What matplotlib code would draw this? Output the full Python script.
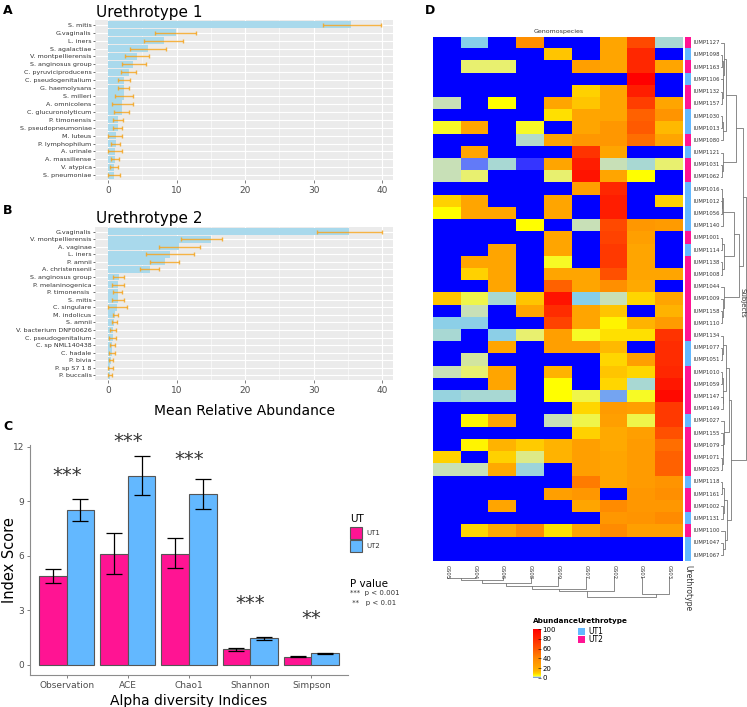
import matplotlib

matplotlib.use("Agg")

import matplotlib.pyplot as plt
import numpy as np
from matplotlib.colors import LinearSegmentedColormap, ListedColormap

W, H = 747, 707

# --- Panel A / B data: mean relative abundance with lower/upper error ---
ut1_taxa = ['S. mitis', 'G.vaginalis', 'L. iners', 'S. agalactiae', 'V. montpellierensis',
            'S. anginosus group', 'C. pyruviciproducens', 'C. pseudogenitalium', 'G. haemolysans',
            'S. milleri', 'A. omnicolens', 'C. glucuronolyticum', 'P. timonensis',
            'S. pseudopneumoniae', 'M. luteus', 'P. lymphophilum', 'A. urinale', 'A. massiliense',
            'V. atypica', 'S. pneumoniae']
ut1_mean = [35.5, 9.9, 8.2, 5.8, 4.3, 3.7, 3.0, 2.3, 2.3, 2.3, 2.1, 2.0, 1.5, 1.5, 1.1, 1.1, 1.0, 1.0, 0.9, 0.9]
ut1_lo = [31.4, 6.9, 5.2, 3.2, 2.5, 2.0, 1.9, 1.5, 1.5, 1.0, 0.6, 0.9, 0.8, 0.8, 0.0, 0.4, 0.0, 0.4, 0.3, 0.0]
ut1_hi = [39.8, 12.9, 11.0, 8.4, 6.0, 5.5, 4.1, 3.2, 3.1, 3.6, 3.6, 3.1, 2.2, 2.1, 2.1, 1.8, 2.1, 1.6, 1.5, 1.8]

ut2_taxa = ['G.vaginalis', 'V. montpellierensis', 'A. vaginae', 'L. iners', 'P. amnii',
            'A. christensenii', 'S. anginosus group', 'P. melaninogenica', 'P. timonensis ',
            'S. mitis', 'C. singulare', 'M. indolicus', 'S. amnii', 'V. bacterium DNF00626',
            'C. pseudogenitalium', 'C. sp NML140438', 'C. hadale', 'P. bivia', 'P. sp S7 1 8',
            'P. buccalis']
ut2_mean = [35.2, 15.0, 10.4, 9.0, 8.3, 6.1, 1.6, 1.5, 1.5, 1.4, 1.3, 1.0, 0.9, 0.7, 0.7, 0.6, 0.6, 0.4, 0.35, 0.3]
ut2_lo = [30.5, 10.6, 7.4, 5.6, 6.2, 4.7, 0.8, 0.6, 0.8, 0.6, 0.0, 0.8, 0.6, 0.3, 0.2, 0.3, 0.1, 0.2, 0.0, 0.0]
ut2_hi = [40.0, 16.7, 13.4, 12.5, 10.3, 7.5, 2.3, 2.3, 2.1, 2.3, 2.7, 1.5, 1.3, 1.2, 1.1, 1.0, 1.0, 0.7, 0.8, 0.6]

# --- Panel C data ---
indices = ['Observation', 'ACE', 'Chao1', 'Shannon', 'Simpson']
c_ut1 = [4.9, 6.12, 6.12, 0.86, 0.46]
c_ut1_lo = [4.5, 5.02, 5.33, 0.79, 0.44]
c_ut1_hi = [5.28, 7.24, 6.97, 0.94, 0.50]
c_ut2 = [8.53, 10.4, 9.41, 1.47, 0.66]
c_ut2_lo = [7.9, 9.34, 8.58, 1.38, 0.63]
c_ut2_hi = [9.12, 11.49, 10.24, 1.56, 0.68]
sig_marks = ['***', '***', '***', '***', '**']
sig_y = [10.4, 12.3, 11.3, 3.36, 2.57]

# --- Panel D data ---
species = ['GS05', 'GS04', 'GS06', 'GS08', 'GS09', 'GS07', 'GS02', 'GS01', 'GS03']
subjects = ['IUMP1127', 'IUMP1098', 'IUMP1163', 'IUMP1106', 'IUMP1132', 'IUMP1157', 'IUMP1030',
            'IUMP1013', 'IUMP1080', 'IUMP1121', 'IUMP1031', 'IUMP1062', 'IUMP1016', 'IUMP1012',
            'IUMP1056', 'IUMP1140', 'IUMP1001', 'IUMP1114', 'IUMP1138', 'IUMP1008', 'IUMP1044',
            'IUMP1009', 'IUMP1158', 'IUMP1110', 'IUMP1134', 'IUMP1077', 'IUMP1051', 'IUMP1010',
            'IUMP1059', 'IUMP1147', 'IUMP1149', 'IUMP1027', 'IUMP1155', 'IUMP1079', 'IUMP1071',
            'IUMP1025', 'IUMP1118', 'IUMP1161', 'IUMP1002', 'IUMP1131', 'IUMP1100', 'IUMP1047',
            'IUMP1067']
urethrotype = ['UT2', 'UT1', 'UT2', 'UT1', 'UT2', 'UT2', 'UT1', 'UT1', 'UT2', 'UT1', 'UT2', 'UT2',
               'UT1', 'UT1', 'UT1', 'UT1', 'UT2', 'UT1', 'UT2', 'UT2', 'UT2', 'UT2', 'UT2', 'UT2',
               'UT2', 'UT1', 'UT1', 'UT2', 'UT2', 'UT2', 'UT2', 'UT1', 'UT2', 'UT2', 'UT2', 'UT2',
               'UT1', 'UT2', 'UT2', 'UT1', 'UT2', 'UT1', 'UT1']
abundance = [
    [0, 0.6, 0, 35, 0, 0, 22, 65, 1.2],
    [0, 0, 0, 0, 12, 0, 22, 80, 0],
    [0, 3.5, 3.5, 0, 0, 25, 22, 80, 22],
    [0, 0, 0, 0, 0, 0, 0, 100, 0],
    [0, 0, 0, 0, 0, 10, 22, 85, 0],
    [2, 0, 5, 0, 22, 12, 22, 70, 22],
    [0, 0, 0, 0, 8, 22, 22, 55, 32],
    [4.5, 22, 0, 4.5, 0, 22, 30, 58, 14],
    [0, 0, 0, 1.5, 22, 30, 30, 50, 22],
    [0, 22, 0, 0, 0, 75, 22, 0, 0],
    [2, 0.4, 1.2, 0.2, 22, 85, 2, 1.2, 3.5],
    [2, 3.5, 0, 0, 3.5, 90, 22, 5, 0],
    [0, 0, 0, 0, 0, 25, 80, 0, 0],
    [10, 22, 0, 0, 22, 0, 85, 0, 10],
    [5, 22, 22, 0, 22, 0, 85, 0, 0],
    [0, 0, 0, 5, 0, 2, 65, 30, 28],
    [0, 0, 0, 0, 22, 0, 68, 25, 0],
    [0, 0, 22, 0, 22, 0, 72, 22, 0],
    [0, 22, 22, 0, 4.5, 0, 72, 22, 0],
    [0, 10, 22, 0, 22, 22, 62, 22, 22],
    [0, 0, 22, 0, 55, 22, 35, 20, 0],
    [12, 4, 1.2, 12, 90, 0.6, 2, 9, 22],
    [0, 2, 0, 22, 78, 22, 12, 0, 15],
    [0.7, 0.7, 0, 0, 68, 22, 6, 15, 28],
    [1.2, 0, 0.7, 3.5, 25, 4.5, 8, 8, 75],
    [0, 0, 22, 0, 25, 25, 14, 0, 78],
    [0, 2.5, 0, 0, 0, 0, 9, 25, 78],
    [2, 3.5, 22, 0, 15, 0, 12, 9, 80],
    [0, 0, 22, 0, 5, 0, 9, 1.2, 88],
    [0.9, 1.2, 1.2, 0, 5, 4, 0.5, 4.5, 95],
    [0, 0, 0, 0, 0, 9, 28, 25, 72],
    [0, 6, 22, 0, 2, 4, 25, 4, 72],
    [0, 0, 0, 0, 0, 10, 20, 25, 62],
    [0, 6, 15, 11, 15, 25, 20, 28, 50],
    [10, 0, 10, 3, 15, 25, 22, 28, 55],
    [2, 2, 20, 1.0, 0, 25, 22, 28, 55],
    [0, 0, 0, 0, 0, 45, 22, 28, 32],
    [0, 0, 0, 0, 25, 30, 0, 30, 35],
    [0, 0, 22, 0, 0, 22, 38, 30, 30],
    [0, 0, 0, 0, 0, 0, 30, 32, 38],
    [0, 9, 20, 38, 8, 22, 38, 25, 25],
    [0, 0, 0, 0, 0, 0, 0, 0, 0],
    [0, 0, 0, 0, 0, 0, 0, 0, 0],
]

# dendrograms as nested (height, left, right); leaves are row/column indices
row_tree = (25,
            (22,
             (15,
              (5, (3, 0, (2, (1, 1, 2), (1.5, 3, (1, 4, 5)))), (2, (1, 6, 7), 8)),
              (2, 9, (1, 10, 11))),
             (18,
              (13, (2, (1, 12, (0.5, 13, 14)), 15), (2.5, (1, 16, 17), (1, 18, 19))),
              (3, 20, (2, 21, (1, 22, 23))))),
            (10,
             (8,
              (5, (1.5, 24, (1, 25, 26)), (2, (1, 27, 28), (1.5, 29, 30))),
              (2.5, 31, (2, 32, (1.5, 33, (1, 34, 35))))),
             (6, (3, (1, 36, 37), (2, 38, 39)), (4, 40, (2, 41, 42)))))
col_tree = (20, (14, (12, (9, (6, (3, (1, 0, 1), 2), 3), 4), 5), 6), (17, 7, 8))

# --- colours ---
BAR_BLUE = '#A9D9EC'
ERR_ORANGE = '#F5A623'
UT1_COL = '#63B8FF'
UT2_COL = '#FF1493'
heat_vals = [0, 0.3, 0.6, 1.2, 2, 3.5, 5, 9, 15, 25, 40, 60, 80, 100]
heat_cols = ['#0000FF', '#5050FF', '#87CEEB', '#A8D8D4', '#C8E0B8', '#E8F070', '#FFFF00',
             '#FFD700', '#FFB400', '#FFA000', '#FF8800', '#FF5500', '#FF2800', '#FF0000']
heat_cmap = LinearSegmentedColormap.from_list(
    'abund', list(zip(np.array(heat_vals) / 100, heat_cols)), N=20000)

fig = plt.figure(figsize=(W / 100, H / 100), dpi=100)


def px_axes(l, t, r, b):
    return fig.add_axes([l / W, 1 - b / H, (r - l) / W, (b - t) / H])


def px_text(x, y, s, **kw):
    fig.text(x / W, 1 - y / H, s, **kw)


# --- Panels A and B ---
def abundance_panel(ax, taxa, mean, lo, hi):
    n = len(taxa)
    y = np.arange(n)[::-1]
    mean = np.array(mean)
    ax.set_facecolor('#EBEBEB')
    ax.barh(y, mean, height=0.9, color=BAR_BLUE, zorder=2)
    ax.errorbar(mean, y, xerr=[mean - np.array(lo), np.array(hi) - mean], fmt='none',
                ecolor=ERR_ORANGE, elinewidth=1, capsize=1.5, capthick=1, alpha=0.85, zorder=3)
    ax.set_xlim(-1.9, 41.6)
    ax.set_ylim(-0.6, n - 0.4)
    ax.set_yticks(y)
    ax.set_yticklabels(taxa, fontsize=4.6, color='#333333')
    ax.set_xticks([0, 10, 20, 30, 40])
    ax.set_xticks([5, 15, 25, 35], minor=True)
    ax.tick_params(axis='x', labelsize=6.5, colors='#4D4D4D', length=2, width=0.5, pad=2)
    ax.tick_params(axis='x', which='minor', length=0)
    ax.tick_params(axis='y', length=1.5, width=0.5, pad=1, colors='#333333')
    ax.grid(True, which='major', color='white', lw=0.8, zorder=0)
    ax.grid(True, which='minor', axis='x', color='white', lw=0.4, zorder=0)
    ax.set_axisbelow(True)
    for s in ax.spines.values():
        s.set_visible(False)


axA = px_axes(95, 20, 393, 180)
abundance_panel(axA, ut1_taxa, ut1_mean, ut1_lo, ut1_hi)
px_text(96, 13, 'Urethrotype 1', fontsize=11, va='center')
px_text(3, 11, 'A', fontsize=9, fontweight='bold', va='center')

axB = px_axes(95, 227, 393, 380)
abundance_panel(axB, ut2_taxa, ut2_mean, ut2_lo, ut2_hi)
px_text(96, 219, 'Urethrotype 2', fontsize=11, va='center')
px_text(3, 210, 'B', fontsize=9, fontweight='bold', va='center')
axB.set_xlabel('Mean Relative Abundance', fontsize=10, labelpad=7)

# --- Panel C ---
axC = px_axes(30, 445, 348, 675)
xc = np.arange(1, len(indices) + 1)
bw = 0.45
u1 = np.array(c_ut1)
u2 = np.array(c_ut2)
axC.bar(xc - bw / 2, u1, width=bw, color=UT2_COL, edgecolor='#555555', lw=0.8, label='UT1', zorder=2)
axC.bar(xc + bw / 2, u2, width=bw, color=UT1_COL, edgecolor='#555555', lw=0.8, label='UT2', zorder=2)
axC.errorbar(xc - bw / 2, u1, yerr=[u1 - np.array(c_ut1_lo), np.array(c_ut1_hi) - u1], fmt='none',
             ecolor='black', elinewidth=0.9, capsize=5.5, capthick=0.9, zorder=3)
axC.errorbar(xc + bw / 2, u2, yerr=[u2 - np.array(c_ut2_lo), np.array(c_ut2_hi) - u2], fmt='none',
             ecolor='black', elinewidth=0.9, capsize=5.5, capthick=0.9, zorder=3)
for xi, mark, yi in zip(xc, sig_marks, sig_y):
    axC.text(xi, yi, mark, fontsize=14, ha='center', va='center', color='#333333')
axC.set_xlim(0.4, 5.6)
axC.set_ylim(-0.55, 12.1)
axC.set_xticks(xc)
axC.set_xticklabels(indices, fontsize=6.5, color='#333333')
axC.set_yticks([0, 3, 6, 9, 12])
axC.tick_params(labelsize=6.5, colors='#4D4D4D', length=2, width=0.5, pad=2)
for s in ['top', 'right']:
    axC.spines[s].set_visible(False)
for s in ['left', 'bottom']:
    axC.spines[s].set_color('#8C8C8C')
    axC.spines[s].set_linewidth(0.8)
axC.set_ylabel('Index Score', fontsize=10.5)
axC.yaxis.set_label_coords(-0.041, 0.5)
axC.set_xlabel('Alpha diversity Indices', fontsize=10, labelpad=3)
px_text(3, 427, 'C', fontsize=9, fontweight='bold', va='center')

# legend for C
px_text(350, 519, 'UT', fontsize=7.5, va='center')
for k, (lab, col) in enumerate([('UT1', UT2_COL), ('UT2', UT1_COL)]):
    y0 = 527 + k * 13
    fig.patches.append(plt.Rectangle((350 / W, 1 - (y0 + 12) / H), 12 / W, 12 / H,
                                     transform=fig.transFigure, facecolor=col,
                                     edgecolor='#555555', lw=0.8))
    px_text(366, y0 + 6, lab, fontsize=5, va='center', color='#333333')
px_text(350, 584, 'P value', fontsize=7.5, va='center')
px_text(350, 593, '***  p < 0.001', fontsize=5, va='center', color='#333333')
px_text(350, 603, ' **   p < 0.01', fontsize=5, va='center', color='#333333')

# --- Panel D ---
HL, HT, HR, HB = 433.3, 36.7, 683.3, 561.3
axD = px_axes(HL, HT, HR, HB)
axD.imshow(np.array(abundance), cmap=heat_cmap, vmin=0, vmax=100, aspect='auto',
           interpolation='nearest')
axD.set_xticks([])
axD.set_yticks([])
for s in axD.spines.values():
    s.set_visible(False)
px_text(425, 11, 'D', fontsize=9, fontweight='bold', va='center')
px_text((HL + HR) / 2, 31, 'Genomospecies', fontsize=4.5, ha='center', va='center', color='#333333')

axU = px_axes(685, HT, 691, HB)
ut_codes = np.array([[0 if u == 'UT1' else 1] for u in urethrotype])
axU.imshow(ut_codes, cmap=ListedColormap([UT1_COL, UT2_COL]), vmin=0, vmax=1, aspect='auto',
           interpolation='nearest')
axU.set_xticks([])
axU.set_yticks([])
for s in axU.spines.values():
    s.set_visible(False)

nrow = len(subjects)
rh = (HB - HT) / nrow
for i, name in enumerate(subjects):
    px_text(694, HT + (i + 0.5) * rh, name, fontsize=3.8, va='center', color='#333333')

ncol = len(species)
cw = (HR - HL) / ncol
for j, name in enumerate(species):
    px_text(HL + (j + 0.5) * cw, 565, name, fontsize=3.8, rotation=-90, ha='center', va='top',
            color='#333333')
px_text(688, 565, 'Urethrotype', fontsize=5.5, rotation=-90, ha='center', va='top', color='#333333')
px_text(742, 303, 'Subjects', fontsize=5, rotation=-90, ha='center', va='center', color='#333333')


def draw_tree(ax, node, orient):
    # returns (leaf-axis position, height)
    if not isinstance(node, tuple):
        return node, 0.0
    h, left, right = node
    p1, h1 = draw_tree(ax, left, orient)
    p2, h2 = draw_tree(ax, right, orient)
    if orient == 'row':
        ax.plot([h1, h, h, h2], [p1, p1, p2, p2], color='#777777', lw=0.6)
    else:
        ax.plot([p1, p1, p2, p2], [h1, h, h, h2], color='#777777', lw=0.6)
    return (p1 + p2) / 2, h


axRD = px_axes(721, HT, 747, HB)
draw_tree(axRD, row_tree, 'row')
axRD.set_ylim(nrow - 0.5, -0.5)
axRD.set_xlim(-0.5, 26)
axRD.axis('off')

axCD = px_axes(HL, 577, HR, 598)
draw_tree(axCD, col_tree, 'col')
axCD.set_xlim(-0.5, ncol - 0.5)
axCD.set_ylim(21, -0.3)
axCD.axis('off')

# heatmap legends
axCB = px_axes(533, 629, 541, 678)
grad = np.linspace(100, 0, 400).reshape(-1, 1)
axCB.imshow(grad, cmap=heat_cmap, vmin=0, vmax=100, aspect='auto', extent=[0, 1, 0, 100])
axCB.set_xticks([])
axCB.yaxis.tick_right()
axCB.set_yticks([0, 20, 40, 60, 80, 100])
axCB.tick_params(axis='y', labelsize=5, length=2, width=0.4, pad=1, direction='in')
for s in axCB.spines.values():
    s.set_visible(False)
px_text(533, 621, 'Abundance', fontsize=5.2, fontweight='bold', va='center')
px_text(577, 621, 'Urethrotype', fontsize=5.2, fontweight='bold', va='center')
for k, (lab, col) in enumerate([('UT1', UT1_COL), ('UT2', UT2_COL)]):
    y0 = 628 + k * 8
    fig.patches.append(plt.Rectangle((578 / W, 1 - (y0 + 7) / H), 7 / W, 7 / H,
                                     transform=fig.transFigure, facecolor=col, edgecolor='none'))
    px_text(588, y0 + 3.5, lab, fontsize=5.5, va='center')

plt.savefig('out.png', dpi=100)
